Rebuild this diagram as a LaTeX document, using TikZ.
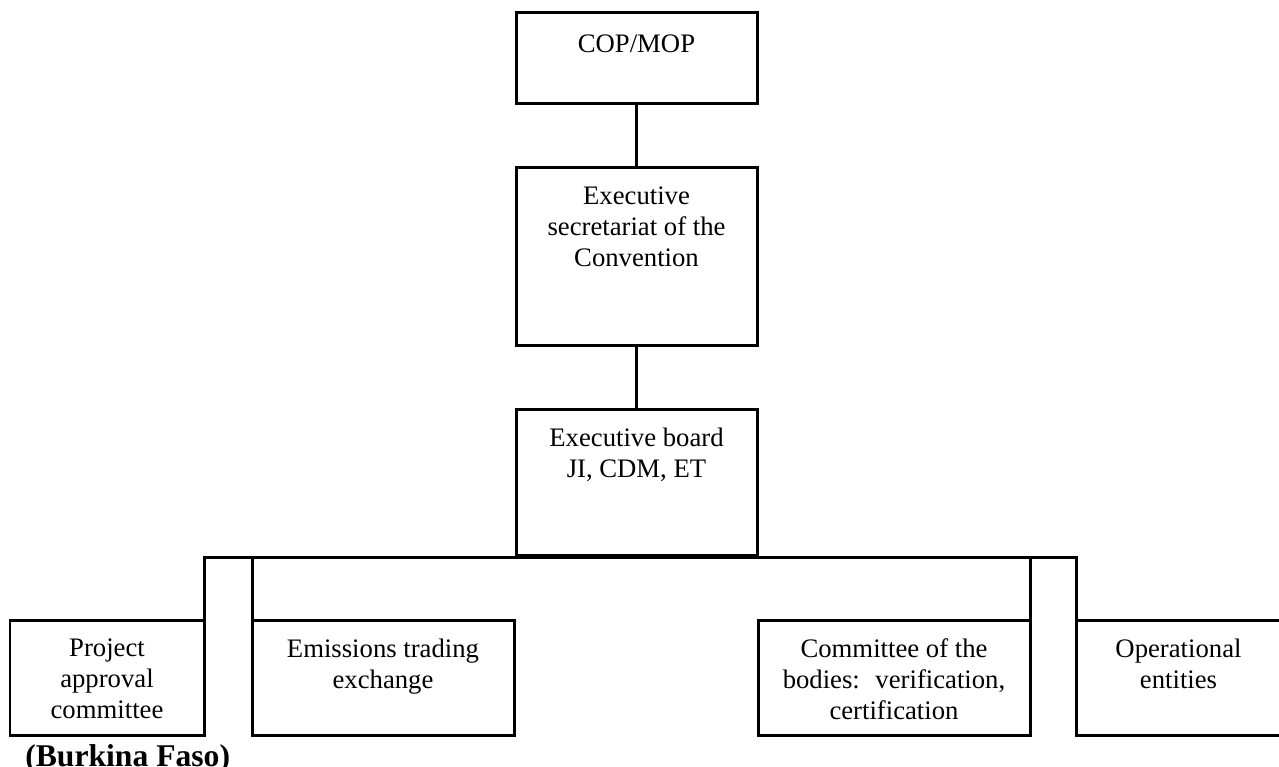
\documentclass[tikz,border=0pt]{standalone}
\usepackage{fontspec}
\setmainfont{Liberation Serif}
\begin{document}
\begin{tikzpicture}[x=0.02cm,y=-0.02cm,
  box/.style={draw, rectangle, line width=0.06cm, inner sep=0pt, outer sep=0pt},
  lbl/.style={anchor=north, align=center, inner sep=0pt, yshift=-0.37cm,
    font=\fontsize{15.2}{17.6}\selectfont, execute at begin node={\rule{0pt}{12pt}}},
  link/.style={line width=0.06cm}]
\useasboundingbox (0,0) rectangle (1279,767);
% boxes
\node[box, minimum width=241*0.02cm, minimum height=91*0.02cm]  (cop)   at (636.5,58.5) {};
\node[box, minimum width=241*0.02cm, minimum height=177*0.02cm] (sec)   at (636.5,256.5) {};
\node[box, minimum width=241*0.02cm, minimum height=146*0.02cm] (board) at (636.5,482) {};
\node[box, minimum width=194*0.02cm, minimum height=115*0.02cm] (proj)  at (107,677.5) {};
\node[box, minimum width=262*0.02cm, minimum height=115*0.02cm] (emis)  at (383,677.5) {};
\node[box, minimum width=272*0.02cm, minimum height=115*0.02cm] (comm)  at (894,677.5) {};
\node[box, minimum width=205*0.02cm, minimum height=115*0.02cm] (oper)  at (1178.5,677.5) {};
% texts
\node[lbl] (copT)   at (cop.north)   {COP/MOP};
\node[lbl] (secT)   at (sec.north)   {Executive\\secretariat of the\\Convention};
\node[lbl] (boardT) at (board.north) {Executive board\\JI, CDM, ET};
\node[lbl] (projT)  at (proj.north)  {Project\\approval\\committee};
\node[lbl] (emisT)  at (emis.north)  {Emissions trading\\exchange};
\node[lbl] (commT)  at (comm.north)  {Committee of the\\bodies:~ verification,\\certification};
\node[lbl] (operT)  at (oper.north)  {Operational\\entities};
\node[anchor=base west, inner sep=0pt, font=\fontsize{18}{20}\selectfont\bfseries] (bf) at (25,766) {(Burkina Faso)};
% connectors
\coordinate (bus) at (636.5,557);
\draw[link] (cop.south) -- (sec.north);
\draw[link] (sec.south) -- (board.north);
\draw[link] (proj.north east) -- (proj.north east |- bus) -- (oper.north west |- bus) -- (oper.north west);
\draw[link] (emis.north west) -- (emis.north west |- bus);
\draw[link] (comm.north east) -- (comm.north east |- bus);
\end{tikzpicture}
\end{document}
